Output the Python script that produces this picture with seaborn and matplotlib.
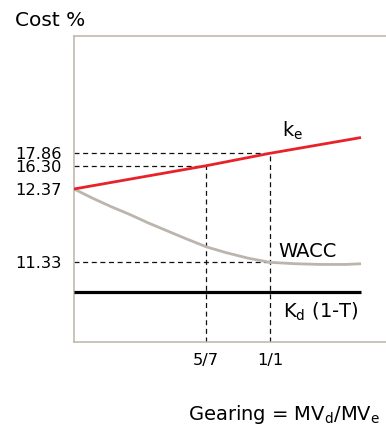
import numpy as np
import matplotlib
matplotlib.use("Agg")
import matplotlib.pyplot as plt
import seaborn as sns

# ---------------- data ----------------
gearing_ke = [0.0, 5 / 7, 1.0, 1.36]
ke = [12.37, 16.30, 17.86, 19.84]

gearing_wacc = [0.0, 0.1, 0.2, 0.3, 0.4, 0.5, 0.6, 5 / 7, 0.8, 0.9, 1.0,
                1.1, 1.2, 1.3, 1.36]
wacc = [12.37, 12.24, 12.12, 12.01, 11.89, 11.78, 11.67, 11.55, 11.47, 11.39, 11.33,
        11.31, 11.30, 11.30, 11.31]

gearing_kd = [0.0, 1.36]
kd_after_tax = [10.91, 10.91]

marked_gearing = [5 / 7, 1.0]
marked_labels = ["5/7", "1/1"]
ytick_values = [11.33, 12.37, 16.30, 17.86]
ytick_labels = ["11.33", "12.37", "16.30", "17.86"]

# ---------------- schematic (not-to-scale) axis scales ----------------
x_knots = [0.0, 5 / 7, 1.0, 1.36, 1.459]
x_fracs = [0.0, 0.4240, 0.6282, 0.9199, 1.0]
y_knots = [10.2, 12.37, 16.30, 17.86, 32.6]
y_fracs = [0.0, 0.5, 0.5761, 0.6167, 1.0]


def fx(v):
    return np.interp(v, x_knots, x_fracs)


def ix(f):
    return np.interp(f, x_fracs, x_knots)


def fy(v):
    return np.interp(v, y_knots, y_fracs)


def iy(f):
    return np.interp(f, y_fracs, y_knots)


sns.set_style("white")
plt.rcParams["font.family"] = ["DejaVu Sans"]
plt.rcParams["mathtext.default"] = "regular"
plt.rcParams["text.color"] = "black"

W, H = 386, 426
fig = plt.figure(figsize=(W / 100, H / 100), dpi=100)
ax = fig.add_axes([74 / W, (H - 342) / H, (W - 74) / W, (342 - 36) / H])

ax.set_xscale("function", functions=(fx, ix))
ax.set_yscale("function", functions=(fy, iy))
ax.set_xlim(x_knots[0], x_knots[-1])
ax.set_ylim(y_knots[0], y_knots[-1])

# dashed guide lines
dash = dict(color="#111111", lw=0.9, linestyle=(0, (4.0, 2.9)), zorder=2)
ke_at = dict(zip(gearing_ke, ke))
wacc_at = dict(zip(gearing_wacc, wacc))
for g in marked_gearing:
    v = ke_at[g]
    ax.plot([0, g], [v, v], **dash)
    ax.plot([g, g], [y_knots[0], v], **dash)
ax.plot([0, 1.0], [wacc_at[1.0], wacc_at[1.0]], **dash)

# main lines
sns.lineplot(x=gearing_kd, y=kd_after_tax, ax=ax, color="black", linewidth=2.3,
             sort=False, zorder=3)
sns.lineplot(x=gearing_wacc, y=wacc, ax=ax, color="#bcb5ad", linewidth=2.0,
             sort=False, zorder=3)
sns.lineplot(x=gearing_ke, y=ke, ax=ax, color="#e8212a", linewidth=2.0,
             sort=False, zorder=4)
for ln in ax.get_lines():
    ln.set_solid_capstyle("butt")
    ln.set_solid_joinstyle("round")

# ticks
ax.set_xticks(marked_gearing, marked_labels)
ax.set_yticks(ytick_values, ytick_labels)
ax.minorticks_off()
ax.tick_params(axis="both", length=0, labelsize=11.7, colors="black")
ax.tick_params(axis="y", pad=8.6)
ax.tick_params(axis="x", pad=8.0)
ax.set_xlabel("")
ax.set_ylabel("")

# spines
for s in ["left", "top", "bottom"]:
    ax.spines[s].set_color("#bcb4aa")
    ax.spines[s].set_linewidth(1.1)
ax.spines["right"].set_visible(False)
ax.grid(False)

# line labels
ax.annotate("k$_{e}$", xy=(1.0, ke_at[1.0]), xytext=(12, 16.5),
            textcoords="offset pixels", ha="left", va="baseline", fontsize=14,
            color="black")
ax.annotate("WACC", xy=(1.0, wacc_at[1.0]), xytext=(8, 5.6),
            textcoords="offset pixels", ha="left", va="baseline", fontsize=14,
            color="black")
ax.annotate("K$_{d}$ (1-T)", xy=(1.0, kd_after_tax[0]), xytext=(13, -25.4),
            textcoords="offset pixels", ha="left", va="baseline", fontsize=14,
            color="black")

fig.text(15 / W, 1 - 26.5 / H, "Cost %", ha="left", va="baseline", fontsize=14.5,
         color="black")
fig.text(188.3 / W, 1 - 419.5 / H, "Gearing = MV$_{d}$/MV$_{e}$", ha="left",
         va="baseline", fontsize=14, color="black")

fig.savefig("out.png", dpi=100)
